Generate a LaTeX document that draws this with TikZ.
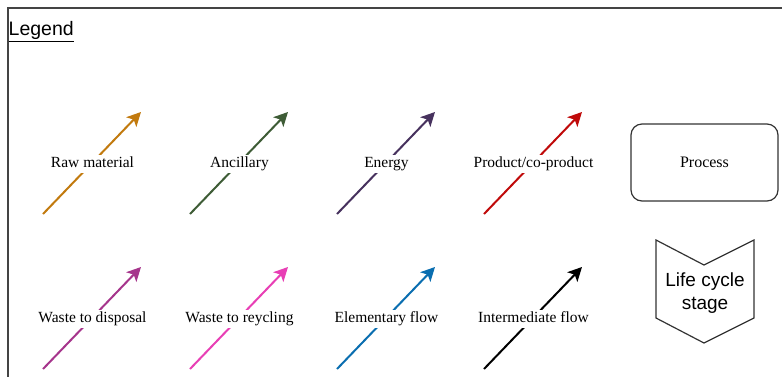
\documentclass[tikz,border=0pt]{standalone}
\usepackage{fontspec}
\setmainfont{Liberation Serif}
\setsansfont{Liberation Sans}
\usetikzlibrary{arrows.meta}
\definecolor{cRaw}{HTML}{C27A0E}
\definecolor{cAnc}{HTML}{3E5C36}
\definecolor{cEne}{HTML}{47325E}
\definecolor{cPro}{HTML}{C00A0A}
\definecolor{cWd}{HTML}{A6358C}
\definecolor{cWr}{HTML}{E83FB5}
\definecolor{cEl}{HTML}{0A6EB0}
\definecolor{cIn}{HTML}{000000}
\definecolor{frame}{HTML}{444444}
\tikzset{
  flow/.style={line width=2pt, -{Stealth[length=14pt,width=14pt,inset=3.5pt]}},
  lbl/.style={fill=white, inner xsep=1.5pt, inner ysep=2pt, text height=11pt, text depth=3.5pt, font=\fontsize{15.5}{18}\selectfont},
  procbox/.style={draw=black!80, line width=1.2pt, rounded corners=11pt}
}
\begin{document}
\begin{tikzpicture}[x=1pt,y=-1pt]
\useasboundingbox (0,0) rectangle (782,376);
\fill[white] (0,0) rectangle (782,376);
\draw[frame, line width=1.5pt] (8,380) -- (8,8) -- (786,8);
\node[anchor=base west, inner sep=0pt, font=\sffamily\fontsize{19.5}{22}\selectfont] (legend) at (8.5,35.5) {\underline{Legend}};

% row 1
\foreach \x/\c/\t/\n in {43/cRaw/Raw material/a1, 190/cAnc/Ancillary/a2, 337/cEne/Energy/a3, 484/cPro/Product\slash co-product/a4} {
  \coordinate (\n s) at (\x,214);
  \coordinate (\n e) at (\x+98,112);
  \draw[flow, draw=\c] (\n s) -- (\n e);
  \node[lbl] (\n l) at (\x+49.5,164) {\t};
}
% row 2
\foreach \x/\c/\t/\n in {43/cWd/Waste to disposal/b1, 190/cWr/Waste to reycling/b2, 337/cEl/Elementary flow/b3, 484/cIn/Intermediate flow/b4} {
  \coordinate (\n s) at (\x,369);
  \coordinate (\n e) at (\x+98,267);
  \draw[flow, draw=\c] (\n s) -- (\n e);
  \node[lbl] (\n l) at (\x+49.5,319) {\t};
}

\node[procbox, minimum width=147pt, minimum height=77pt, font=\fontsize{16}{19}\selectfont] (proc) at (704.5,162.5) {Process};

\draw[black!80, line width=1.2pt] (656,240) -- (704,265) -- (754,240) -- (754,318) -- (704,343) -- (656,318) -- cycle;
\node[align=center, font=\sffamily\fontsize{19}{23}\selectfont] (lcs) at (705,293) {Life cycle\\stage};
\end{tikzpicture}
\end{document}
